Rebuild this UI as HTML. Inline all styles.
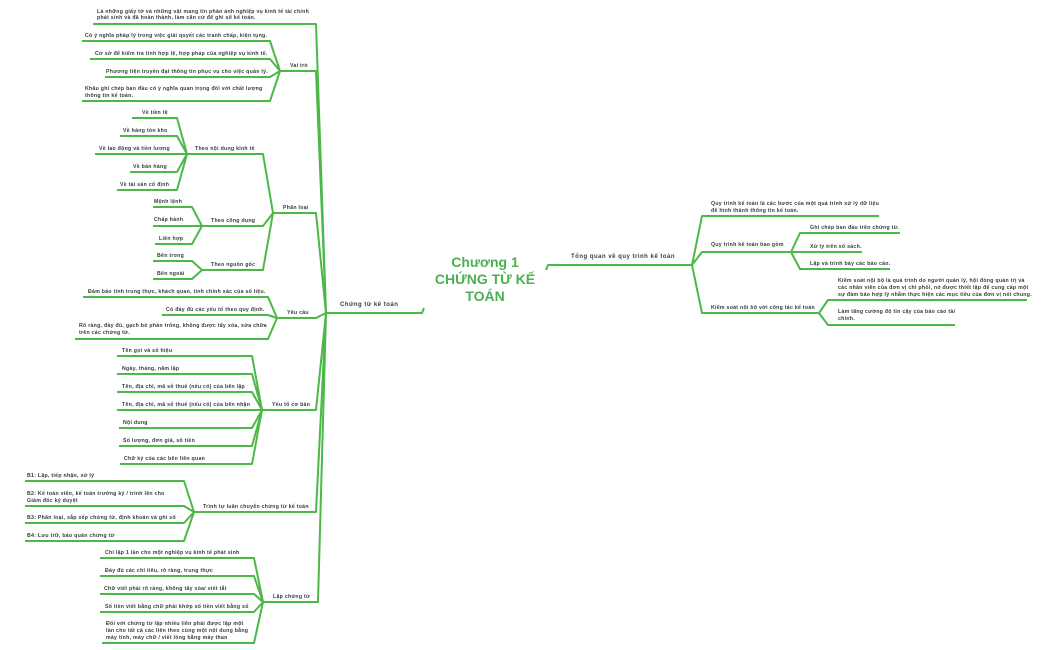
<!DOCTYPE html>
<html><head><meta charset="utf-8"><style>
html,body{margin:0;padding:0;background:#fff;}
svg{display:block}
text{font-family:"Liberation Sans","DejaVu Sans",sans-serif;font-size:5.2px;letter-spacing:0.28px;font-weight:bold;fill:#3a3a3a;}
.t{font-size:14px;letter-spacing:0;fill:#4cb050;text-anchor:middle}
.b{font-size:6px;letter-spacing:0.5px}
</style></head><body>
<svg width="1050" height="650" viewBox="0 0 1050 650" xmlns="http://www.w3.org/2000/svg">
<g fill="none" stroke="#4cb848" stroke-width="2" stroke-linejoin="round">
<polyline points="93,24 316,24 326,313"/>
<polyline points="280,71 316,71 326,313"/>
<polyline points="273,213 316,213 326,313"/>
<polyline points="277,318 316,318 326,313"/>
<polyline points="262,410 316,410 326,313"/>
<polyline points="194,512 316,512 326,313"/>
<polyline points="263,602 318,602 326,313"/>
<polyline points="326,313 422,313 424,308"/>
<polyline points="82,41 270,41 280,71"/>
<polyline points="90,59 270,59 280,71"/>
<polyline points="105,77 270,77 280,71"/>
<polyline points="82,101 270,101 280,71"/>
<polyline points="187,154 263,154 273,213"/>
<polyline points="202,226 263,226 273,213"/>
<polyline points="202,270 263,270 273,213"/>
<polyline points="132,118 177,118 187,154"/>
<polyline points="120,136 177,136 187,154"/>
<polyline points="95,154 187,154"/>
<polyline points="130,172 177,172 187,154"/>
<polyline points="117,190 177,190 187,154"/>
<polyline points="153,207 192,207 202,226"/>
<polyline points="153,226 202,226"/>
<polyline points="155,244 192,244 202,226"/>
<polyline points="153,261 192,261 202,270"/>
<polyline points="153,279 192,279 202,270"/>
<polyline points="83,297 268,297 277,318"/>
<polyline points="162,315 268,315 277,318"/>
<polyline points="75,339 268,339 277,318"/>
<polyline points="117,356 252,356 262,410"/>
<polyline points="117,374 252,374 262,410"/>
<polyline points="117,392 252,392 262,410"/>
<polyline points="117,410 262,410"/>
<polyline points="119,428 252,428 262,410"/>
<polyline points="119,446 252,446 262,410"/>
<polyline points="120,464 252,464 262,410"/>
<polyline points="25,481 184,481 194,512"/>
<polyline points="25,506 184,506 194,512"/>
<polyline points="25,523 184,523 194,512"/>
<polyline points="25,541 184,541 194,512"/>
<polyline points="100,558 254,558 263,602"/>
<polyline points="100,576 254,576 263,602"/>
<polyline points="100,594 254,594 263,602"/>
<polyline points="100,612 254,612 263,602"/>
<polyline points="102,643 254,643 263,602"/>
<polyline points="546,270 548,265 692,265"/>
<polyline points="692,265 702,216 879,216"/>
<polyline points="692,265 702,252 791,252"/>
<polyline points="692,265 702,313 819,313"/>
<polyline points="791,252 800,233 900,233"/>
<polyline points="791,252 862,252"/>
<polyline points="791,252 800,269 890,269"/>
<polyline points="819,313 828,300 1027,300"/>
<polyline points="819,313 828,325 955,325"/>
</g>

<text x="97" y="13">Là những giấy tờ và những vật mang tin phản ánh nghiệp vụ kinh tế tài chính</text>
<text x="97" y="19">phát sinh và đã hoàn thành, làm căn cứ để ghi sổ kế toán.</text>
<text x="290" y="67">Vai trò</text>
<text x="85" y="37">Có ý nghĩa pháp lý trong việc giải quyết các tranh chấp, kiện tụng.</text>
<text x="95" y="55">Cơ sở để kiểm tra tính hợp lệ, hợp pháp của nghiệp vụ kinh tế.</text>
<text x="106" y="73">Phương tiện truyền đạt thông tin phục vụ cho việc quản lý.</text>
<text x="85" y="90">Khâu ghi chép ban đầu có ý nghĩa quan trọng đối với chất lượng</text>
<text x="85" y="97">thông tin kế toán.</text>

<text x="195" y="150">Theo nội dung kinh tế</text>
<text x="142" y="114">Về tiền tệ</text>
<text x="123" y="132">Về hàng tồn kho</text>
<text x="99" y="150">Về lao động và tiền lương</text>
<text x="133" y="168">Về bán hàng</text>
<text x="120" y="186">Về tài sản cố định</text>
<text x="283" y="209">Phân loại</text>
<text x="211" y="222">Theo công dụng</text>
<text x="154" y="203">Mệnh lệnh</text>
<text x="154" y="221">Chấp hành</text>
<text x="159" y="240">Liên hợp</text>
<text x="211" y="266">Theo nguồn gốc</text>
<text x="157" y="257">Bên trong</text>
<text x="157" y="275">Bên ngoài</text>

<text x="287" y="314">Yêu cầu</text>
<text x="88" y="293">Đảm bảo tính trung thực, khách quan, tính chính xác của số liệu.</text>
<text x="166" y="311">Có đầy đủ các yếu tố theo quy định.</text>
<text x="79" y="327">Rõ ràng, đầy đủ, gạch bỏ phần trống, không được tẩy xóa, sửa chữa</text>
<text x="79" y="334">trên các chứng từ.</text>

<text x="272" y="406">Yếu tố cơ bản</text>
<text x="122" y="352">Tên gọi và số hiệu</text>
<text x="122" y="370">Ngày, tháng, năm lập</text>
<text x="122" y="388">Tên, địa chỉ, mã số thuế (nếu có) của bên lập</text>
<text x="122" y="406">Tên, địa chỉ, mã số thuế (nếu có) của bên nhận</text>
<text x="123" y="424">Nội dung</text>
<text x="123" y="442">Số lượng, đơn giá, số tiền</text>
<text x="124" y="460">Chữ ký của các bên liên quan</text>

<text x="203" y="508">Trình tự luân chuyển chứng từ kế toán</text>
<text x="27" y="477">B1: Lập, tiếp nhận, xử lý</text>
<text x="27" y="495">B2: Kế toán viên, kế toán trưởng ký / trình lên cho</text>
<text x="27" y="502">Giám đốc ký duyệt</text>
<text x="27" y="519">B3: Phân loại, sắp xếp chứng từ, định khoản và ghi sổ</text>
<text x="27" y="537">B4: Lưu trữ, bảo quản chứng từ</text>

<text x="273" y="598">Lập chứng từ</text>
<text x="105" y="554">Chỉ lập 1 lần cho một nghiệp vụ kinh tế phát sinh</text>
<text x="105" y="572">Đầy đủ các chỉ tiêu, rõ ràng, trung thực</text>
<text x="104" y="590">Chữ viết phải rõ ràng, không tẩy xóa/ viết tắt</text>
<text x="105" y="608">Số tiền viết bằng chữ phải khớp số tiền viết bằng số</text>
<text x="106" y="625">Đối với chứng từ lập nhiều liên phải được lập một</text>
<text x="106" y="632">lần cho tất cả các liên theo cùng một nội dung bằng</text>
<text x="106" y="639">máy tính, máy chữ / viết lồng bằng máy than</text>

<text x="340" y="306" class="b">Chứng từ kế toán</text>

<text x="485" y="267" class="t">Chương 1</text>
<text x="485" y="284" class="t">CHỨNG TỪ KẾ</text>
<text x="485" y="301" class="t">TOÁN</text>

<text x="571" y="258" class="b">Tổng quan về quy trình kế toán</text>
<text x="711" y="205">Quy trình kế toán là các bước của một quá trình xử lý dữ liệu</text>
<text x="711" y="212">để hình thành thông tin kế toán.</text>
<text x="711" y="246">Quy trình kế toán bao gồm</text>
<text x="810" y="229">Ghi chép ban đầu trên chứng từ.</text>
<text x="810" y="248">Xử lý trên sổ sách.</text>
<text x="810" y="265">Lập và trình bày các báo cáo.</text>
<text x="711" y="309">Kiểm soát nội bộ với công tác kế toán</text>
<text x="838" y="282">Kiểm soát nội bộ là quá trình do người quản lý, hội đồng quản trị và</text>
<text x="838" y="289">các nhân viên của đơn vị chi phối, nó được thiết lập để cung cấp một</text>
<text x="838" y="296">sự đảm bảo hợp lý nhằm thực hiện các mục tiêu của đơn vị nói chung.</text>
<text x="838" y="313">Làm tăng cường độ tin cậy của báo cáo tài</text>
<text x="838" y="320">chính.</text>
</svg>
</body></html>
